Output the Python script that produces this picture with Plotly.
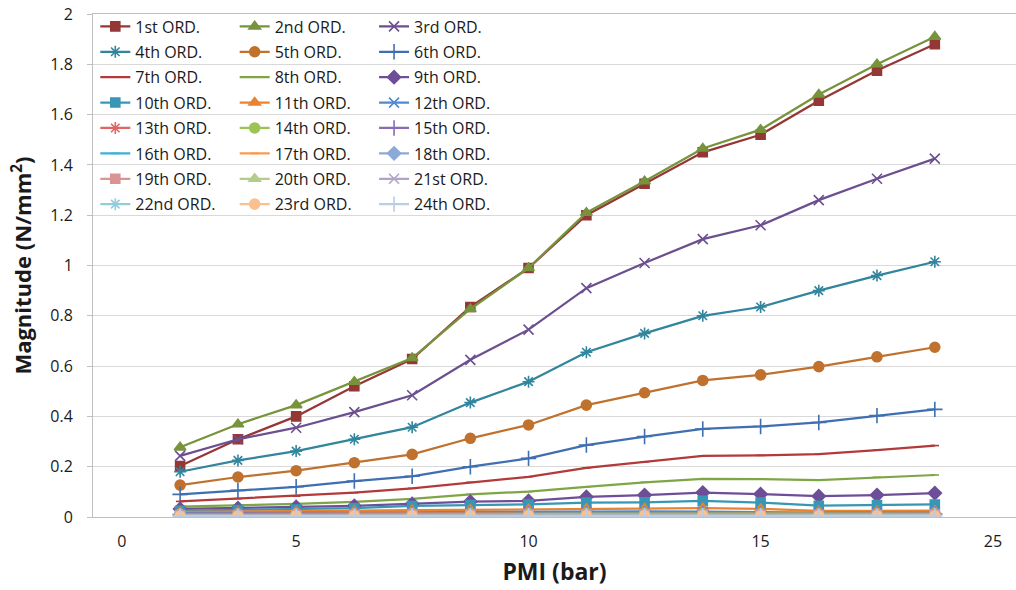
import plotly.graph_objects as go

# PMI values (bar)
pmi = [1.67, 3.33, 5.0, 6.67, 8.33, 10.0, 11.67, 13.33, 15.0, 16.67, 18.33, 20.0, 21.67, 23.33]

# Tick labels as printed on the reference axis
x_tick_pos = [0, 5, 11.67, 18.33, 25]
x_tick_text = ["0", "5", "10", "15", "25"]
y_ticks = [0, 0.2, 0.4, 0.6, 0.8, 1, 1.2, 1.4, 1.6, 1.8, 2]
y_tick_text = ["0", "0.2", "0.4", "0.6", "0.8", "1", "1.2", "1.4", "1.6", "1.8", "2"]

names = ["1st ORD.", "2nd ORD.", "3rd ORD.", "4th ORD.", "5th ORD.", "6th ORD.",
         "7th ORD.", "8th ORD.", "9th ORD.", "10th ORD.", "11th ORD.", "12th ORD.",
         "13th ORD.", "14th ORD.", "15th ORD.", "16th ORD.", "17th ORD.", "18th ORD.",
         "19th ORD.", "20th ORD.", "21st ORD.", "22nd ORD.", "23rd ORD.", "24th ORD."]

ord1 = [0.203, 0.309, 0.40, 0.52, 0.628, 0.835, 0.99, 1.20, 1.325, 1.45, 1.52, 1.655, 1.775, 1.88]
ord2 = [0.277, 0.369, 0.445, 0.538, 0.632, 0.827, 0.99, 1.21, 1.335, 1.465, 1.54, 1.68, 1.80, 1.91]
ord3 = [0.243, 0.309, 0.355, 0.417, 0.484, 0.625, 0.745, 0.91, 1.01, 1.105, 1.16, 1.26, 1.345, 1.425]
ord4 = [0.18, 0.225, 0.262, 0.309, 0.357, 0.455, 0.538, 0.655, 0.73, 0.80, 0.835, 0.90, 0.96, 1.015]
ord5 = [0.127, 0.159, 0.184, 0.216, 0.249, 0.313, 0.366, 0.445, 0.494, 0.543, 0.565, 0.598, 0.637, 0.675]
ord6 = [0.09, 0.106, 0.12, 0.143, 0.162, 0.20, 0.233, 0.286, 0.32, 0.35, 0.36, 0.376, 0.403, 0.428]
ord7 = [0.062, 0.073, 0.083, 0.097, 0.114, 0.138, 0.16, 0.195, 0.219, 0.243, 0.245, 0.25, 0.266, 0.284]
ord8 = [0.041, 0.046, 0.052, 0.06, 0.072, 0.09, 0.101, 0.12, 0.138, 0.152, 0.151, 0.147, 0.158, 0.167]
ord9 = [0.032, 0.035, 0.04, 0.044, 0.052, 0.061, 0.064, 0.08, 0.087, 0.097, 0.091, 0.083, 0.087, 0.095]
ord10 = [0.025, 0.028, 0.03, 0.035, 0.044, 0.048, 0.05, 0.057, 0.058, 0.064, 0.057, 0.045, 0.048, 0.05]
ord11 = [0.02, 0.021, 0.023, 0.025, 0.027, 0.029, 0.031, 0.033, 0.034, 0.035, 0.032, 0.024, 0.024, 0.025]
ord12 = [0.015, 0.016, 0.017, 0.018, 0.019, 0.02, 0.021, 0.022, 0.022, 0.021, 0.018, 0.017, 0.017, 0.018]
ord13 = [0.012, 0.012, 0.013, 0.014, 0.015, 0.016, 0.016, 0.017, 0.017, 0.016, 0.015, 0.014, 0.014, 0.014]
ord14 = [0.011, 0.011, 0.012, 0.012, 0.013, 0.014, 0.014, 0.015, 0.015, 0.014, 0.013, 0.012, 0.012, 0.013]
ord15 = [0.01, 0.01, 0.011, 0.011, 0.012, 0.012, 0.013, 0.013, 0.013, 0.013, 0.012, 0.011, 0.011, 0.012]
ord16 = [0.009, 0.009, 0.01, 0.01, 0.011, 0.011, 0.012, 0.012, 0.012, 0.011, 0.011, 0.01, 0.01, 0.011]
ord17 = [0.008, 0.008, 0.009, 0.009, 0.01, 0.01, 0.011, 0.011, 0.011, 0.01, 0.01, 0.009, 0.009, 0.01]
ord18 = [0.007, 0.007, 0.008, 0.008, 0.009, 0.009, 0.01, 0.01, 0.01, 0.009, 0.009, 0.008, 0.008, 0.009]
ord19 = [0.006, 0.006, 0.007, 0.007, 0.008, 0.008, 0.009, 0.009, 0.009, 0.008, 0.008, 0.007, 0.007, 0.008]
ord20 = [0.005, 0.005, 0.006, 0.006, 0.007, 0.007, 0.008, 0.008, 0.008, 0.007, 0.007, 0.006, 0.006, 0.007]
ord21 = [0.005, 0.005, 0.005, 0.006, 0.006, 0.006, 0.007, 0.007, 0.007, 0.007, 0.006, 0.006, 0.006, 0.006]
ord22 = [0.004, 0.004, 0.005, 0.005, 0.005, 0.006, 0.006, 0.006, 0.006, 0.006, 0.005, 0.005, 0.005, 0.005]
ord23 = [0.003, 0.003, 0.004, 0.004, 0.004, 0.005, 0.005, 0.005, 0.005, 0.005, 0.004, 0.004, 0.004, 0.004]
ord24 = [0.003, 0.003, 0.003, 0.003, 0.004, 0.004, 0.004, 0.004, 0.004, 0.004, 0.004, 0.003, 0.003, 0.004]

series = [ord1, ord2, ord3, ord4, ord5, ord6, ord7, ord8, ord9, ord10, ord11, ord12,
          ord13, ord14, ord15, ord16, ord17, ord18, ord19, ord20, ord21, ord22, ord23, ord24]

colors = ["#953735", "#77933C", "#6B4F8F", "#31859C", "#C0712E", "#3F6FB0",
          "#B23A3A", "#7FA646", "#6E4E98", "#3797B5", "#E8832F", "#4F8AD0",
          "#E06666", "#9BC454", "#8B6BB5", "#3FAFD8", "#F99B4E", "#8DA9D8",
          "#D99594", "#B3CC8A", "#B3A2C7", "#93CDDD", "#FAC090", "#B9CDE5"]

symbols = ["square", "triangle-up", "x-thin", "asterisk", "circle", "cross-thin",
           "line-ew", "line-ew", "diamond", "square", "triangle-up", "x-thin",
           "asterisk", "circle", "cross-thin", "line-ew", "line-ew", "diamond",
           "square", "triangle-up", "x-thin", "asterisk", "circle", "cross-thin"]

sizes = {"square": 9, "triangle-up": 10, "x-thin": 10, "asterisk": 10, "circle": 10,
         "cross-thin": 11, "line-ew": 6, "diamond": 10}

legend_names = ["legend", "legend2", "legend3"]

fig = go.Figure()
for i, (nm, ys, c, s) in enumerate(zip(names, series, colors, symbols)):
    fig.add_trace(go.Scatter(
        x=pmi, y=ys, name=nm, mode="lines+markers",
        line=dict(color=c, width=2.25),
        marker=dict(symbol=s, size=sizes[s], color=c, line=dict(color=c, width=1.6)),
        legend=legend_names[i % 3], legendgroup=nm,
    ))

leg_common = dict(bgcolor="rgba(0,0,0,0)", font=dict(family="Open Sans", size=16, color="#1a1a1a"),
                  yanchor="top", xanchor="left", y=1.009, tracegroupgap=1.6, itemwidth=30,
                  borderwidth=0)
fig.update_layout(
    width=1016, height=590,
    margin=dict(l=93, r=0, t=14, b=73),
    paper_bgcolor="white", plot_bgcolor="white",
    legend=dict(x=0.0025, **leg_common),
    legend2=dict(x=0.1535, **leg_common),
    legend3=dict(x=0.3045, **leg_common),
    xaxis=dict(range=[-0.83, 25.66], tickvals=x_tick_pos, ticktext=x_tick_text,
               showgrid=False, zeroline=False, showline=True, linecolor="#BFBFBF",
               linewidth=1, mirror=True, ticks="outside", ticklen=10, tickcolor="rgba(0,0,0,0)",
               tickfont=dict(family="Open Sans", size=16, color="#1a1a1a"),
               title=dict(text="<b>PMI (bar)</b>", standoff=12,
                          font=dict(family="Open Sans", size=23, color="#1a1a1a"))),
    yaxis=dict(range=[0, 2], tickvals=y_ticks, ticktext=y_tick_text,
               showgrid=True, gridcolor="#D9D9D9", gridwidth=1, zeroline=False,
               showline=True, linecolor="#BFBFBF", linewidth=1,
               ticks="outside", ticklen=5, tickcolor="#BFBFBF", ticklabelstandoff=11,
               tickfont=dict(family="Open Sans", size=16, color="#1a1a1a"),
               title=dict(text="<b>Magnitude (N/mm<sup>2</sup>)</b>", standoff=12,
                          font=dict(family="Open Sans", size=22, color="#1a1a1a"))),
)

fig.write_html("out.html")
